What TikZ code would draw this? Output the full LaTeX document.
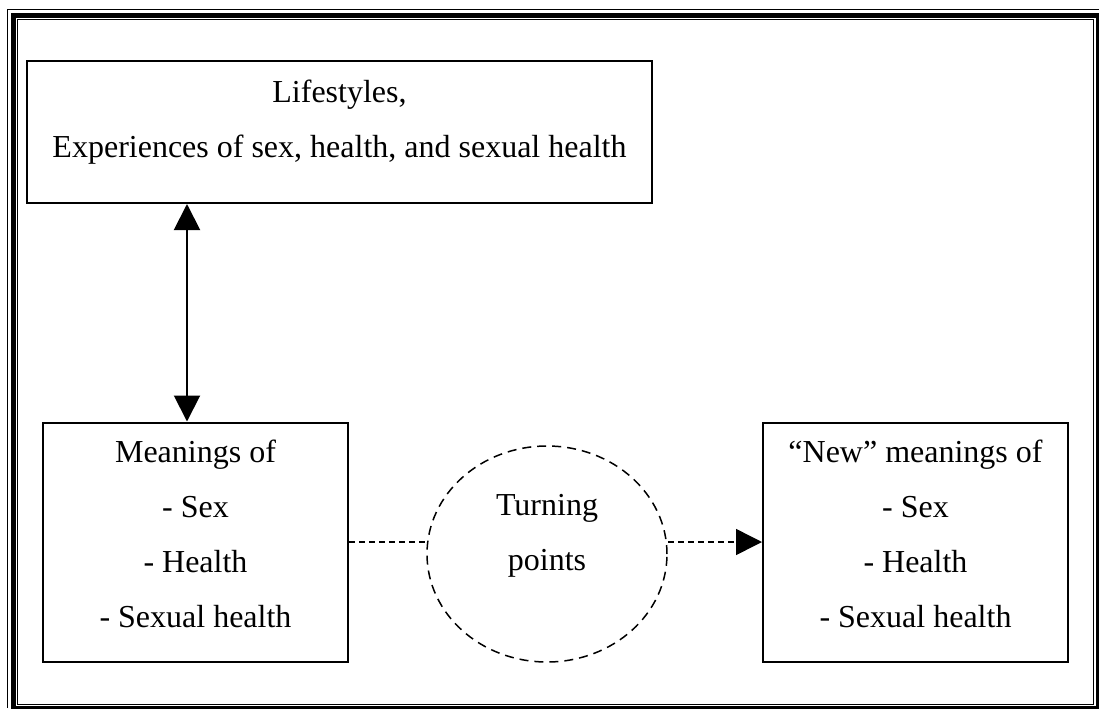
\documentclass[tikz,border=0pt]{standalone}
\usepackage{fontspec}
\setmainfont{Liberation Serif}
\usetikzlibrary{arrows.meta,shapes.geometric}
\usetikzlibrary{positioning}

\begin{document}
\begin{tikzpicture}[x = .5pt, y = -.5pt,
        box/.style = {draw, line width = 1pt, rectangle, inner sep = 0pt},
        txt/.style = {anchor = base, inner sep = 0pt, font = \fontsize{16}{19}\selectfont},
        dashline/.style = {line width = .75pt, dash pattern = on 3pt off 2pt},
        > = {Triangle[length = 13pt, width = 13pt]}]
        \useasboundingbox (0, 0) rectangle (1099, 708);
        \clip (0, 0) rectangle (1099, 708);

        % page border
        \draw[line width = .5pt] (7.5, 708) -- (7.5, 9) -- (1099, 9);
        \draw[line width = 2.5pt] (13.5, 15.5) rectangle (1098.5, 708.5);
        \draw[line width = .5pt] (17.5, 19.5) rectangle (1093.5, 704.5);

        \node[box, minimum width = 312.5pt, minimum height = 71pt] (life) at (339.5, 132) {};
        \node[box, minimum width = 152.5pt, minimum height = 119.5pt] (mean) at (195.5, 542) {};
        \node[box, minimum width = 152.5pt, minimum height = 119.5pt] (newmean) at (915.5, 542) {};
        \node[draw, ellipse, line width = .75pt, dash pattern = on 4.5pt off 3pt, inner sep = 0pt,
              minimum width = 120pt, minimum height = 108pt] (turn) at (547, 554) {};

        \node[txt] (life1) at (339.5, 102) {Lifestyles,};
        \node[txt] (life2) at (339.5, 157) {Experiences of sex, health, and sexual health};

        \node[txt] (mean1) at (195.5, 462) {Meanings of};
        \node[txt] (mean2) at (195.5, 517) {- Sex};
        \node[txt] (mean3) at (195.5, 572) {- Health};
        \node[txt] (mean4) at (195.5, 627) {- Sexual health};

        \node[txt] (turn1) at (547, 515) {Turning};
        \node[txt] (turn2) at (547, 570) {points};

        \node[txt] (newmean1) at (915.5, 462) {“New” meanings of};
        \node[txt] (newmean2) at (915.5, 517) {- Sex};
        \node[txt] (newmean3) at (915.5, 572) {- Health};
        \node[txt] (newmean4) at (915.5, 627) {- Sexual health};

        \coordinate (link) at (187, 0);
        \draw[line width = 1pt, <->] (link |- life.south) -- (link |- mean.north);
        \draw[dashline] (mean.east) -- (mean.east -| turn.west);
        \draw[dashline, ->] (turn.east |- newmean.west) -- (newmean.west);
\end{tikzpicture}
\end{document}
